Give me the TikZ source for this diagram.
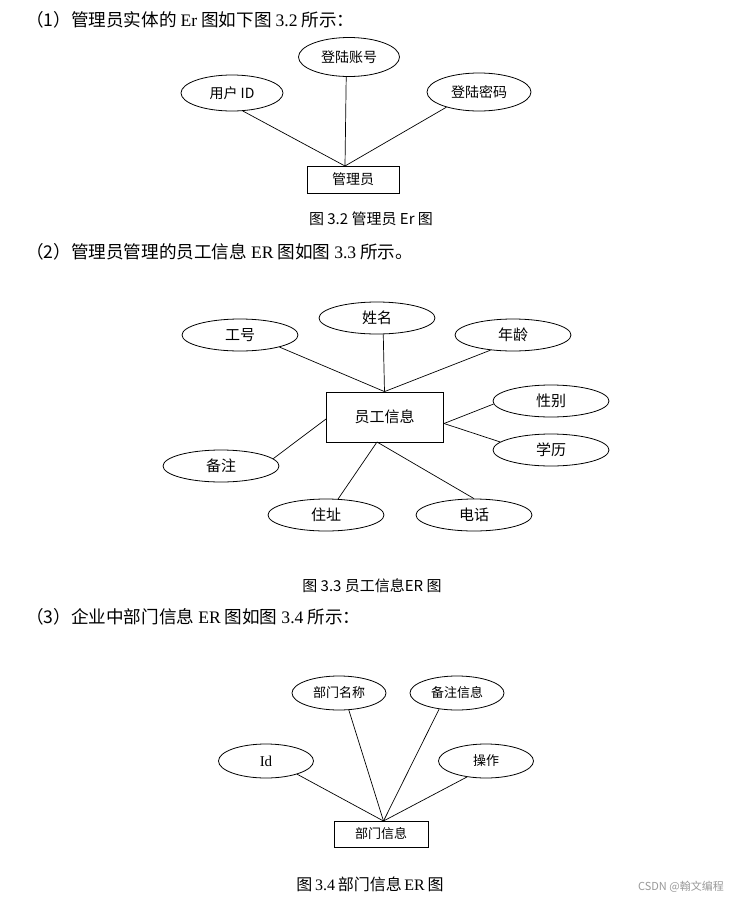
\documentclass[tikz,border=0pt]{standalone}
\usepackage{fontspec}
\setmainfont{Liberation Serif}
\newfontfamily\cjk{Noto Sans CJK SC}
\usetikzlibrary{shapes.geometric,calc}
\begin{document}
\begin{tikzpicture}[x=1pt,y=-1pt,
  attr/.style={ellipse,draw,line width=0.8pt,inner sep=0pt},
  ent/.style={rectangle,draw,line width=0.8pt,inner sep=0pt},
  conn/.style={line width=0.7pt},
  head/.style={anchor=west,inner sep=0pt,font=\fontsize{17.6}{20}\selectfont},
  lblA/.style={font=\cjk\fontsize{14}{16}\selectfont},
  lblB/.style={font=\cjk\fontsize{15}{17}\selectfont},
  lblC/.style={font=\cjk\fontsize{13}{15}\selectfont},
  capA/.style={inner sep=0pt,font=\cjk\fontsize{15}{17}\selectfont}]
\useasboundingbox[fill=white] (0,0) rectangle (729,900);

% ---------- Section 1 ----------
\node[head] (h1) at (26,20) {\cjk （1）管理员实体的 {\rmfamily Er} 图如下图 {\rmfamily 3.2} 所示：};
\node[attr,lblA,minimum width=102pt,minimum height=36pt] (a1) at (232,93) {用户 ID};
\node[attr,lblA,minimum width=101pt,minimum height=39pt] (a2) at (349,57) {登陆账号};
\node[attr,lblA,minimum width=104pt,minimum height=38pt] (a3) at (479,92) {登陆密码};
\node[ent,lblA,minimum width=92pt,minimum height=27pt] (e1) at (353,179.5) {管理员};
\coordinate (j1) at (345,166);
\draw[conn] (a1.-59) -- (j1);
\draw[conn] (a2.-98) -- (j1);
\draw[conn] (a3.-155) -- (j1);
\node[capA] (c1) at (371,219) {图 3.2 管理员 Er 图};

% ---------- Section 2 ----------
\node[head] (h2) at (26,252) {\cjk （2）管理员管理的员工信息 {\rmfamily ER} 图如图 {\rmfamily 3.3} 所示。};
\node[attr,lblB,minimum width=116pt,minimum height=32pt] (n1) at (240,335) {工号};
\node[attr,lblB,minimum width=116pt,minimum height=32pt] (n2) at (377,318) {姓名};
\node[attr,lblB,minimum width=116pt,minimum height=32pt] (n3) at (513,335) {年龄};
\node[attr,lblB,minimum width=116pt,minimum height=32pt] (n4) at (551,401) {性别};
\node[attr,lblB,minimum width=116pt,minimum height=32pt] (n5) at (551,450) {学历};
\node[attr,lblB,minimum width=116pt,minimum height=32pt] (n6) at (221,466) {备注};
\node[attr,lblB,minimum width=116pt,minimum height=32pt] (n7) at (326,515) {住址};
\node[attr,lblB,minimum width=116pt,minimum height=32pt] (n8) at (474,515) {电话};
\node[ent,lblB,minimum width=117pt,minimum height=50pt] (e2) at (384.5,417) {员工信息};
\coordinate (j2r) at (444,423.5);
\coordinate (j2l) at (326,419);
\coordinate (j2b) at (377,442);
\draw[conn] (n1.-17) -- (e2.north);
\draw[conn] (n2.-69) -- (e2.north);
\draw[conn] (n3.-146) -- (e2.north);
\draw[conn] (n4.-177) -- (j2r);
\draw[conn] (n5.171) -- (j2r);
\draw[conn] (n6.8) -- (j2l);
\draw[conn] (n7.53) -- (j2b);
\draw[conn] (n8.90) -- (j2b);
\node[capA] (c2) at (372,586) {图 3.3 员工信息ER 图};

% ---------- Section 3 ----------
\node[head] (h3) at (26,617) {\cjk （3）企业中部门信息 {\rmfamily ER} 图如图 {\rmfamily 3.4} 所示：};
\node[attr,lblC,minimum width=94pt,minimum height=34pt] (m1) at (339,693) {部门名称};
\node[attr,lblC,minimum width=94pt,minimum height=34pt] (m2) at (457,693) {备注信息};
\node[attr,minimum width=95pt,minimum height=34pt,font=\fontsize{15}{17}\selectfont] (m3) at (266,761) {Id};
\node[attr,lblC,minimum width=95pt,minimum height=34pt] (m4) at (486,761) {操作};
\node[ent,lblC,minimum width=94pt,minimum height=26pt] (e3) at (381,834) {部门信息};
\coordinate (j3) at (383.5,821);
\draw[conn] (m3.-23) -- (j3);
\draw[conn] (m1.-60) -- (j3);
\draw[conn] (m2.-138) -- (j3);
\draw[conn] (m4.-140) -- (j3);
\node[inner sep=0pt,font=\fontsize{16}{18}\selectfont] (c3) at (370,884) {\cjk 图\,{\rmfamily 3.4}\,部门信息\,{\rmfamily ER}\,图};

\node[anchor=east,inner sep=0pt,text=black!40,font=\cjk\fontsize{11}{13}\selectfont] (wm) at (724,887) {CSDN @翰文编程};
\end{tikzpicture}
\end{document}
